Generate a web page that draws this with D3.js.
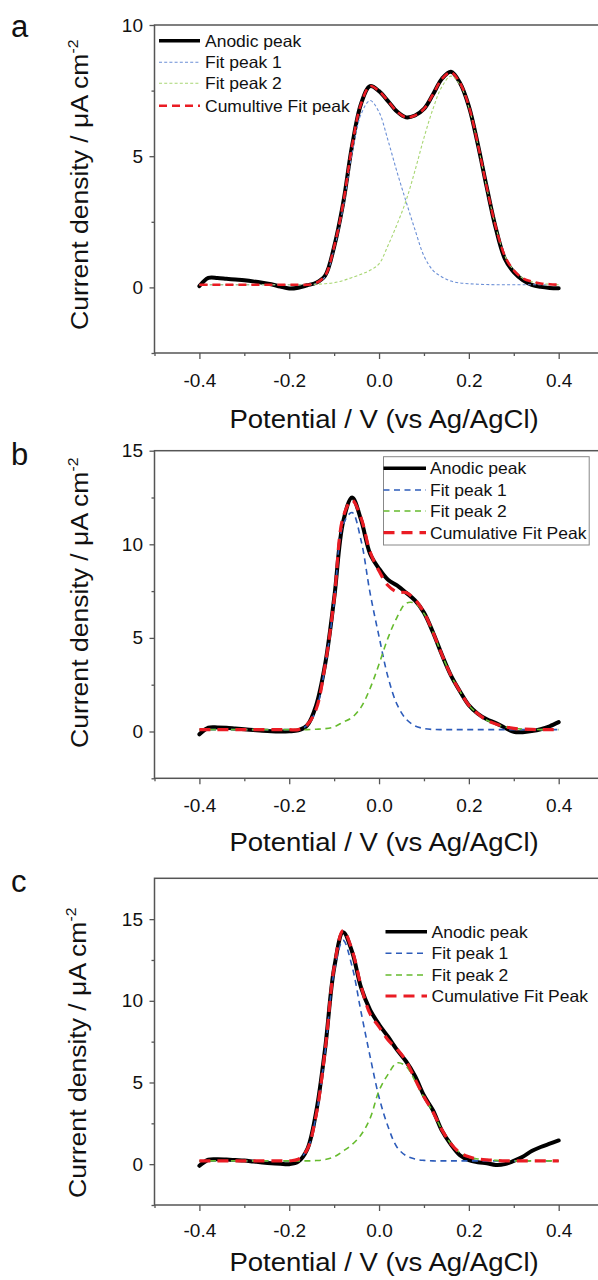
<!DOCTYPE html>
<html>
<head>
<meta charset="utf-8">
<script src="https://cdn.jsdelivr.net/npm/d3@7"></script>
<style>
  html, body { margin: 0; padding: 0; background: #fff; }
  svg { display: block; font-family: "Liberation Sans", Arial, Helvetica, sans-serif; }
</style>
</head>
<body>
<svg id="fig" width="598" height="1280"></svg>
<script>
// Potential grid (V vs Ag/AgCl) shared by every trace
const potential = [-0.40, -0.38, -0.36, -0.34, -0.32, -0.30, -0.28, -0.26, -0.24, -0.22,
  -0.20, -0.18, -0.16, -0.14, -0.12, -0.10, -0.08, -0.06, -0.04, -0.02,
  0.00, 0.02, 0.04, 0.06, 0.08, 0.10, 0.12, 0.14, 0.16, 0.18,
  0.20, 0.22, 0.24, 0.26, 0.28, 0.30, 0.32, 0.34, 0.36, 0.38, 0.40];

const xMajorTicks = [-0.4, -0.2, 0.0, 0.2, 0.4];
const xMinorTicks = [-0.5, -0.3, -0.1, 0.1, 0.3, 0.5];
const xTitle = "Potential / V (vs Ag/AgCl)";
const yTitle = "Current density / \u03bcA cm";
const yTitleSup = "-2";

// ---- panel a (current density, µA cm-2) ----
const anodicA = [0.05, 0.36, 0.36, 0.33, 0.30, 0.27, 0.23, 0.18, 0.12, 0.03,
  -0.04, -0.01, 0.08, 0.18, 0.45, 1.55, 3.2, 5.4, 7.0, 7.67,
  7.48, 7.1, 6.7, 6.48, 6.55, 6.8, 7.35, 7.95, 8.22, 7.8,
  6.9, 5.45, 3.8, 2.25, 1.1, 0.58, 0.28, 0.1, 0.02, -0.02, -0.03];
const fit1A = [0.1, 0.1, 0.1, 0.1, 0.1, 0.1, 0.1, 0.1, 0.1, 0.1,
  0.1, 0.1, 0.1, 0.15, 0.41, 1.47, 3.04, 5.12, 6.6, 7.12,
  6.68, 5.6, 4.4, 3.28, 2.2, 1.2, 0.65, 0.4, 0.24, 0.17,
  0.14, 0.12, 0.11, 0.1, 0.1, 0.1, 0.1, 0.1, 0.1, 0.1, 0.1];
const fit2A = [0.1, 0.1, 0.1, 0.1, 0.1, 0.1, 0.1, 0.1, 0.1, 0.1,
  0.1, 0.1, 0.1, 0.12, 0.14, 0.18, 0.26, 0.38, 0.5, 0.65,
  0.9, 1.6, 2.4, 3.3, 4.45, 5.7, 6.8, 7.65, 8.05, 7.73,
  6.86, 5.43, 3.79, 2.3, 1.2, 0.65, 0.35, 0.22, 0.15, 0.12, 0.1];
const cumA = [0.1, 0.1, 0.1, 0.1, 0.1, 0.1, 0.1, 0.1, 0.1, 0.1,
  0.1, 0.1, 0.1, 0.17, 0.45, 1.55, 3.2, 5.4, 7.0, 7.67,
  7.48, 7.1, 6.7, 6.48, 6.55, 6.8, 7.35, 7.95, 8.19, 7.8,
  6.9, 5.45, 3.8, 2.3, 1.2, 0.65, 0.35, 0.22, 0.15, 0.12, 0.1];
const yMajorA = [0, 5, 10];
const yMinorA = [-2.5, 2.5, 7.5];
const legendA = ["Anodic peak", "Fit peak 1", "Fit peak 2", "Cumultive Fit peak"];

// ---- panel b ----
const anodicB = [-0.15, 0.2, 0.22, 0.2, 0.16, 0.12, 0.08, 0.04, 0.01, 0.0,
  0.01, 0.06, 0.33, 1.4, 3.6, 7.1, 11.2, 12.5, 11.3, 9.5,
  8.7, 8.1, 7.8, 7.42, 7.0, 6.35, 5.3, 4.1, 3.0, 2.15,
  1.4, 0.95, 0.65, 0.45, 0.2, -0.02, -0.04, 0.02, 0.12, 0.28, 0.5];
const fit1B = [0.1, 0.1, 0.1, 0.1, 0.1, 0.1, 0.1, 0.1, 0.1, 0.1,
  0.1, 0.1, 0.34, 1.18, 3.5, 6.9, 11.05, 11.7, 10.2, 7.4,
  5.07, 2.9, 1.45, 0.67, 0.3, 0.16, 0.11, 0.1, 0.1, 0.1,
  0.1, 0.1, 0.1, 0.1, 0.1, 0.1, 0.1, 0.1, 0.1, 0.1, 0.1];
const fit2B = [0.1, 0.1, 0.1, 0.1, 0.1, 0.1, 0.1, 0.1, 0.1, 0.1,
  0.1, 0.1, 0.1, 0.12, 0.15, 0.25, 0.5, 0.75, 1.3, 2.3,
  3.6, 5.0, 6.1, 6.85, 6.85, 6.3, 5.3, 4.1, 3.0, 2.15,
  1.4, 0.95, 0.6, 0.4, 0.25, 0.17, 0.13, 0.11, 0.1, 0.1, 0.1];
const cumB = [0.1, 0.1, 0.1, 0.1, 0.1, 0.1, 0.1, 0.1, 0.1, 0.1,
  0.1, 0.1, 0.36, 1.2, 3.55, 7.05, 11.45, 12.35, 11.4, 9.6,
  8.57, 7.8, 7.45, 7.42, 7.05, 6.36, 5.31, 4.1, 3.0, 2.15,
  1.4, 0.95, 0.6, 0.4, 0.25, 0.17, 0.13, 0.11, 0.1, 0.1, 0.1];
const yMajorB = [0, 5, 10, 15];
const yMinorB = [-2.5, 2.5, 7.5, 12.5];
const legendB = ["Anodic peak", "Fit peak 1", "Fit peak 2", "Cumulative Fit Peak"];

// ---- panel c ----
const anodicC = [-0.1, 0.27, 0.3, 0.28, 0.25, 0.22, 0.16, 0.1, 0.05, 0.02,
  0.0, 0.15, 0.9, 3.2, 7.1, 12.0, 14.2, 13.0, 10.8, 9.45,
  8.55, 7.8, 7.0, 6.3, 5.4, 4.2, 3.3, 2.05, 1.2, 0.55,
  0.25, 0.12, 0.05, -0.05, 0.0, 0.2, 0.45, 0.8, 1.05, 1.25, 1.45];
const fit1C = [0.2, 0.2, 0.2, 0.2, 0.2, 0.2, 0.2, 0.2, 0.2, 0.2,
  0.2, 0.3, 0.9, 3.0, 6.9, 11.8, 13.7, 12.1, 9.3, 6.6,
  4.1, 2.3, 1.04, 0.52, 0.31, 0.23, 0.2, 0.2, 0.2, 0.2,
  0.2, 0.2, 0.2, 0.2, 0.2, 0.2, 0.2, 0.2, 0.2, 0.2, 0.2];
const fit2C = [0.2, 0.2, 0.2, 0.2, 0.2, 0.2, 0.2, 0.2, 0.2, 0.2,
  0.2, 0.2, 0.2, 0.22, 0.28, 0.45, 0.8, 1.2, 1.8, 2.8,
  4.5, 5.5, 6.2, 6.0, 5.1, 4.1, 3.2, 2.1, 1.25, 0.7,
  0.45, 0.32, 0.26, 0.23, 0.2, 0.2, 0.2, 0.2, 0.2, 0.2, 0.2];
const cumC = [0.2, 0.2, 0.2, 0.2, 0.2, 0.2, 0.2, 0.2, 0.2, 0.2,
  0.2, 0.3, 0.9, 3.02, 6.98, 12.05, 14.3, 13.1, 10.9, 9.2,
  8.4, 7.6, 7.04, 6.32, 5.21, 4.13, 3.2, 2.1, 1.25, 0.7,
  0.45, 0.32, 0.26, 0.23, 0.2, 0.2, 0.2, 0.2, 0.2, 0.2, 0.2];
const yMajorC = [0, 5, 10, 15];
const yMinorC = [-2.5, 2.5, 7.5, 12.5];
const legendC = ["Anodic peak", "Fit peak 1", "Fit peak 2", "Cumulative Fit Peak"];

// ---------------------------------------------------------------
const svg = d3.select("#fig");
const FRAME = "#555";

// Trace styles: thin dotted fits in panel a, longer dashes in b and c
const styleThin = {
  anodic: { stroke: "#000", width: 4, dash: null },
  fit1:   { stroke: "#6b8fd6", width: 1.1, dash: "3,2.2" },
  fit2:   { stroke: "#a8d673", width: 1.1, dash: "3,2.2" },
  cum:    { stroke: "#ea1c24", width: 2.6, dash: "8,5" }
};
const styleBold = {
  anodic: { stroke: "#000", width: 4, dash: null },
  fit1:   { stroke: "#2d5cba", width: 1.6, dash: "6,4.5" },
  fit2:   { stroke: "#66bb2e", width: 1.6, dash: "6,4.5" },
  cum:    { stroke: "#ea1c24", width: 3.2, dash: "11,7" }
};

const panels = [
  { tag: "a", top: 25, bottom: 353, yDomain: [-2.5, 10], major: yMajorA, minor: yMinorA,
    series: { anodic: anodicA, fit1: fit1A, fit2: fit2A, cum: cumA }, labels: legendA,
    style: styleThin, tagY: 37, tickOff: 34, titleY: 428, yTitleX: 88, yTitleStart: 330,
    legend: { x0: 159, x1: 200, tx: 205, rows: [40.7, 62.3, 83.3, 105.7], box: null } },
  { tag: "b", top: 450.7, bottom: 778.3, yDomain: [-2.5, 15], major: yMajorB, minor: yMinorB,
    series: { anodic: anodicB, fit1: fit1B, fit2: fit2B, cum: cumB }, labels: legendB,
    style: styleBold, tagY: 465, tickOff: 34, titleY: 851, yTitleX: 88, yTitleStart: 748,
    legend: { x0: 383.5, x1: 426, tx: 430, rows: [468.3, 490, 511, 532.7],
      box: { x: 383.5, y: 456.7, w: 205.7, h: 88.3 } } },
  { tag: "c", top: 878.3, bottom: 1205, yDomain: [-2.5, 17.5], major: yMajorC, minor: yMinorC,
    series: { anodic: anodicC, fit1: fit1C, fit2: fit2C, cum: cumC }, labels: legendC,
    style: styleBold, tagY: 892, tickOff: 32, titleY: 1271, yTitleX: 86, yTitleStart: 1198,
    legend: { x0: 385.5, x1: 427, tx: 431.5, rows: [931.7, 953.3, 975, 996], box: null } }
];

const x = d3.scaleLinear().domain([-0.5, 0.5]).range([154.5, 603.6]);
const order = ["anodic", "fit1", "fit2", "cum"];

panels.forEach(p => {
  const g = svg.append("g");
  const y = d3.scaleLinear().domain(p.yDomain).range([p.bottom, p.top]);

  // plot frame (right edge falls just outside the page)
  g.append("rect")
    .attr("x", x.range()[0]).attr("y", p.top)
    .attr("width", x.range()[1] - x.range()[0]).attr("height", p.bottom - p.top)
    .attr("fill", "none").attr("stroke", FRAME).attr("stroke-width", 1.5);

  // x axis: major and minor ticks pointing outward
  const xMaj = g.append("g").attr("transform", `translate(0,${p.bottom})`)
    .call(d3.axisBottom(x).tickValues(xMajorTicks).tickSize(6).tickFormat(d => d.toFixed(1)));
  const xMin = g.append("g").attr("transform", `translate(0,${p.bottom})`)
    .call(d3.axisBottom(x).tickValues(xMinorTicks).tickSize(3).tickFormat(""));
  [xMaj, xMin].forEach(a => {
    a.select(".domain").remove();
    a.selectAll("line").attr("stroke", FRAME).attr("stroke-width", 1.3);
  });
  xMaj.selectAll("text")
    .attr("y", p.tickOff).attr("dy", null)
    .attr("font-size", 19).attr("fill", "#111")
    .attr("font-family", "'Liberation Sans', Arial, sans-serif");

  // y axis
  const yMaj = g.append("g").attr("transform", `translate(${x.range()[0]},0)`)
    .call(d3.axisLeft(y).tickValues(p.major).tickSize(5).tickFormat(d => String(d)));
  const yMin = g.append("g").attr("transform", `translate(${x.range()[0]},0)`)
    .call(d3.axisLeft(y).tickValues(p.minor).tickSize(3).tickFormat(""));
  [yMaj, yMin].forEach(a => {
    a.select(".domain").remove();
    a.selectAll("line").attr("stroke", FRAME).attr("stroke-width", 1.3);
  });
  yMaj.selectAll("text")
    .attr("x", -11.5)
    .attr("font-size", 19).attr("fill", "#111")
    .attr("font-family", "'Liberation Sans', Arial, sans-serif");

  // traces
  const line = d3.line()
    .x((d, i) => x(potential[i]))
    .y(d => y(d))
    .curve(d3.curveCatmullRom.alpha(0.5));
  order.forEach(k => {
    const s = p.style[k];
    g.append("path")
      .datum(p.series[k])
      .attr("d", line)
      .attr("fill", "none")
      .attr("stroke", s.stroke)
      .attr("stroke-width", s.width)
      .attr("stroke-dasharray", s.dash)
      .attr("stroke-linejoin", "round")
      .attr("stroke-linecap", k === "anodic" ? "round" : "butt");
  });

  // legend
  const L = p.legend;
  if (L.box) {
    g.append("rect").attr("x", L.box.x).attr("y", L.box.y)
      .attr("width", L.box.w).attr("height", L.box.h)
      .attr("fill", "#fff").attr("stroke", "#888").attr("stroke-width", 1);
  }
  order.forEach((k, i) => {
    const s = p.style[k];
    const ry = L.rows[i];
    g.append("line")
      .attr("x1", L.x0).attr("x2", L.x1).attr("y1", ry).attr("y2", ry)
      .attr("stroke", s.stroke).attr("stroke-width", k === "anodic" ? 3.6 : s.width)
      .attr("stroke-dasharray", s.dash);
    g.append("g").attr("transform", `translate(${L.tx},${ry + 6})scale(1.06,1)`)
      .append("text").attr("font-size", 16.5).attr("fill", "#111")
      .text(p.labels[i]);
  });

  // axis titles
  g.append("g").attr("transform", `translate(${(x(-0.5) + x(0.5)) / 2 + 5},${p.titleY})scale(1.06,1)`)
    .append("text").attr("text-anchor", "middle").attr("font-size", 26).attr("fill", "#111")
    .text(xTitle);

  const yt = g.append("g")
    .attr("transform", `translate(${p.yTitleX},${p.yTitleStart})rotate(-90)scale(1.13,1)`)
    .append("text").attr("font-size", 23.5).attr("fill", "#111");
  yt.append("tspan").text(yTitle);
  yt.append("tspan").attr("font-size", 14).attr("dy", -10).text(yTitleSup);

  // panel letter
  g.append("text").attr("x", 11).attr("y", p.tagY)
    .attr("font-size", 31).attr("fill", "#111").text(p.tag);
});
</script>
</body>
</html>
